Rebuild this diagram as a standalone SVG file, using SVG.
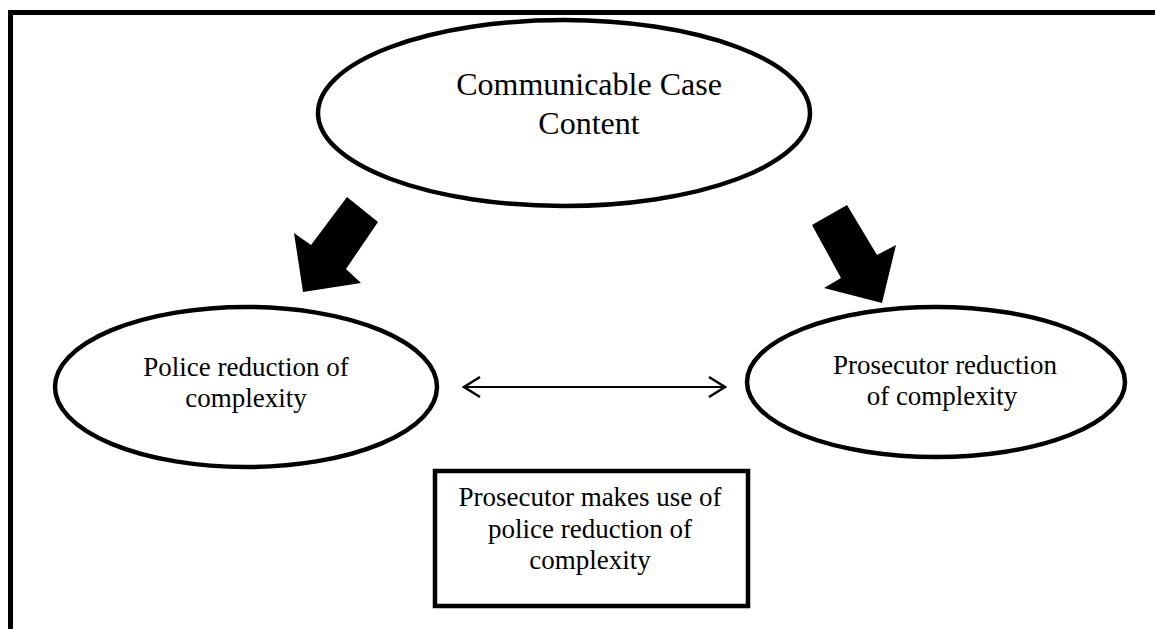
<svg xmlns="http://www.w3.org/2000/svg" width="1155" height="629" viewBox="0 0 1155 629">
  <defs>
    <style>
      .shape { fill: #fff; stroke: #000; stroke-width: 4.5; }
      .label { font-family: "Liberation Serif", "Times New Roman", serif; fill: #000; text-anchor: middle; }
      .big { font-size: 32px; }
      .mid { font-size: 27px; }
      .thin { stroke: #000; stroke-width: 2.2; fill: none; }
      .block { fill: #000; stroke: none; }
    </style>
    <marker id="chevron" viewBox="0 0 20 22" refX="18" refY="11" markerWidth="20" markerHeight="22" markerUnits="userSpaceOnUse" orient="auto-start-reverse">
      <path d="M2,1 L18,11 L2,21" fill="none" stroke="#000" stroke-width="2.4"/>
    </marker>
  </defs>

  <rect width="1155" height="629" fill="#fff"/>

  <!-- outer frame (runs off the right and bottom edges) -->
  <rect x="10.5" y="12.5" width="1200" height="700" fill="none" stroke="#000" stroke-width="5"/>

  <g id="node-case-content">
    <ellipse class="shape" cx="564" cy="113" rx="246" ry="93"/>
    <text class="label big" x="589" y="95">Communicable Case</text>
    <text class="label big" x="589" y="134">Content</text>
  </g>

  <g id="node-police">
    <ellipse class="shape" cx="246" cy="387" rx="191" ry="80"/>
    <text class="label mid" x="246" y="376">Police reduction of</text>
    <text class="label mid" x="246" y="407">complexity</text>
  </g>

  <g id="node-prosecutor">
    <ellipse class="shape" cx="936" cy="382" rx="189" ry="75"/>
    <text class="label mid" x="945" y="374">Prosecutor reduction</text>
    <text class="label mid" x="942" y="405">of complexity</text>
  </g>

  <g id="node-use">
    <rect class="shape" x="435" y="471" width="313" height="135"/>
    <text class="label mid" x="590" y="506">Prosecutor makes use of</text>
    <text class="label mid" x="590" y="538">police reduction of</text>
    <text class="label mid" x="590" y="569">complexity</text>
  </g>

  <g id="connectors">
    <polygon class="block" points="347,197 378,222 346,269 361,283 303,292 294,233 311,245"/>
    <polygon class="block" points="812,225 847,205 877,255 896,245 882,303 824,288 841,278"/>
    <line class="thin" x1="464" y1="387" x2="725" y2="387" marker-start="url(#chevron)" marker-end="url(#chevron)"/>
  </g>
</svg>
